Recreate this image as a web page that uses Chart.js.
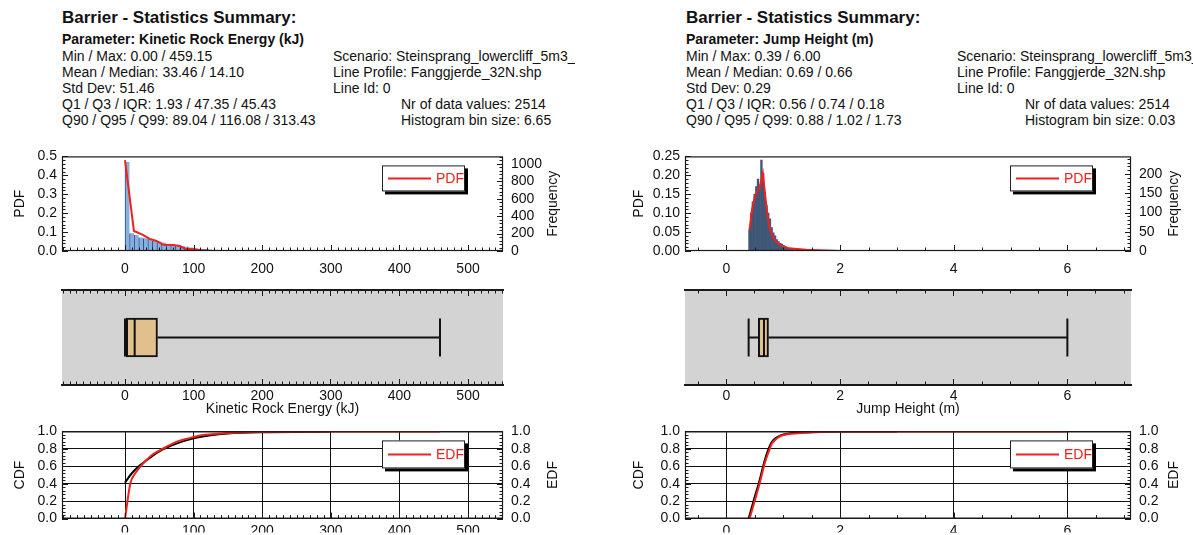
<!DOCTYPE html>
<html>
<head>
<meta charset="utf-8">
<script src="https://cdn.jsdelivr.net/npm/chart.js@4.4.0/dist/chart.umd.min.js"></script>
<style>
body { margin: 0; background: #fff; width: 1193px; height: 535px; overflow: hidden; position: relative; font-family: "Liberation Sans", Arial, sans-serif; color: #111; }
canvas { position: absolute; }
.panel { position: absolute; top: 0; height: 140px; overflow: hidden; }
.t { position: absolute; white-space: nowrap; font-size: 14px; line-height: 16px; }
.h { font-weight: bold; font-size: 17px; line-height: 20px; }
.b { font-weight: bold; }
</style>
</head>
<body>
<script>
// ---- summary text ----
const energyTitle = "Parameter: Kinetic Rock Energy (kJ)"
const energyInfo = ["Min / Max: 0.00 / 459.15", "Mean / Median: 33.46 / 14.10", "Std Dev: 51.46", "Q1 / Q3 / IQR: 1.93 / 47.35 / 45.43", "Q90 / Q95 / Q99: 89.04 / 116.08 / 313.43"]
const energyCount = ["Nr of data values: 2514", "Histogram bin size: 6.65"]
const jumpTitle = "Parameter: Jump Height (m)"
const jumpInfo = ["Min / Max: 0.39 / 6.00", "Mean / Median: 0.69 / 0.66", "Std Dev: 0.29", "Q1 / Q3 / IQR: 0.56 / 0.74 / 0.18", "Q90 / Q95 / Q99: 0.88 / 1.02 / 1.73"]
const jumpCount = ["Nr of data values: 2514", "Histogram bin size: 0.03"]
const runInfo = ["Scenario: Steinsprang_lowercliff_5m3_", "Line Profile: Fanggjerde_32N.shp", "Line Id: 0"]

// ---- kinetic rock energy ----
const energyRange = [-91.83, 550.98]
const energyTicks = [0, 100, 200, 300, 400, 500]
const energyBinStart = 0
const energyBinSize = 6.65
const energyHist = [0.471, 0.094, 0.085, 0.072, 0.068, 0.066, 0.056, 0.05, 0.045, 0.038, 0.034, 0.03, 0.027, 0.024, 0.019, 0.015, 0.012, 0.01, 0.008, 0.007, 0.006, 0.005, 0.004, 0.003, 0.003, 0.002, 0.002, 0.002, 0.001, 0.001]
const energyPdfX = [0, 13, 26, 36, 46, 56, 70, 80, 87, 99, 111, 130, 459.15]
const energyPdfY = [0.48, 0.106, 0.085, 0.064, 0.053, 0.033, 0.032, 0.027, 0.012, 0.009, 0.004, 0.0, 0.0]
const energyPdfTicks = [0, 0.1, 0.2, 0.3, 0.4, 0.5]
const energyFreqTicks = [0, 200, 400, 600, 800, 1000]
const energyBox = [0.00, 1.93, 14.10, 47.35, 459.15] // min, q1, median, q3, max
const energyCdfX = [0, 5, 10, 20, 30, 40, 50, 60, 75, 100, 125, 150, 200, 300]
const energyCdfY = [0.41, 0.47, 0.52, 0.60, 0.66, 0.72, 0.77, 0.81, 0.86, 0.92, 0.955, 0.975, 0.99, 1.0]
const energyEdfX = [0, 8, 15, 25, 38, 50, 62, 75, 87, 100, 111, 130, 160, 200, 300, 459.15]
const energyEdfY = [0, 0.41, 0.52, 0.62, 0.72, 0.78, 0.83, 0.88, 0.91, 0.935, 0.955, 0.97, 0.985, 0.993, 0.999, 1.0]

// ---- jump height ----
const jumpRange = [-0.73, 7.12]
const jumpTicks = [0, 2, 4, 6]
const jumpBinStart = 0.39
const jumpBinSize = 0.03
const jumpHist = [0.055, 0.10, 0.13, 0.15, 0.17, 0.19, 0.175, 0.24, 0.205, 0.155, 0.12, 0.10, 0.085, 0.062, 0.048, 0.04, 0.03, 0.025, 0.02, 0.018, 0.015, 0.012, 0.01, 0.008, 0.007, 0.005, 0.004, 0.003, 0.003, 0.002, 0.002, 0.002, 0.001, 0.001]
const jumpPdfX = [0.405, 0.45, 0.51, 0.58, 0.64, 0.69, 0.72, 0.76, 0.81, 0.87, 0.96, 1.1, 1.4, 2.0, 6.0]
const jumpPdfY = [0.055, 0.11, 0.15, 0.165, 0.205, 0.135, 0.097, 0.061, 0.039, 0.025, 0.014, 0.007, 0.003, 0.0, 0.0]
const jumpPdfTicks = [0, 0.05, 0.10, 0.15, 0.20, 0.25]
const jumpFreqTicks = [0, 50, 100, 150, 200]
const jumpBox = [0.39, 0.56, 0.66, 0.74, 6.00]
const jumpCdfX = [0.39, 0.48, 0.575, 0.665, 0.735, 0.79, 0.86, 0.95, 1.1, 1.4, 2.0, 3.0]
const jumpCdfY = [0, 0.21, 0.42, 0.65, 0.79, 0.87, 0.92, 0.955, 0.975, 0.99, 1.0, 1.0]
const jumpEdfX = [0.407, 0.5, 0.59, 0.68, 0.75, 0.8, 0.87, 0.96, 1.1, 1.4, 2.0, 6.0]
const jumpEdfY = [0, 0.21, 0.42, 0.65, 0.78, 0.86, 0.91, 0.95, 0.97, 0.985, 1.0, 1.0]

const cdfTicks = [0, 0.2, 0.4, 0.6, 0.8, 1.0]

Chart.defaults.font.family = "'Liberation Sans', Arial, sans-serif"
Chart.defaults.font.size = 14
Chart.defaults.color = '#111'
Chart.defaults.animation = false

function drawTicks(chart, o) {
    const a = chart.chartArea, ctx = chart.ctx
    ctx.strokeStyle = '#1a1a1a'
    ctx.lineWidth = 1
    for (const t of o.ticks || []) {
        const sc = chart.scales[t.scale]
        const n0 = Math.ceil(sc.min / t.minor - 1e-6), n1 = Math.floor(sc.max / t.minor + 1e-6)
        for (let n = n0; n <= n1; n++) {
            const v = n * t.minor
            const r = v / t.major
            const len = Math.abs(r - Math.round(r)) < 1e-6 ? 6 : 3.5
            const p = Math.round(sc.getPixelForValue(v)) + 0.5
            ctx.beginPath()
            if (t.edge == 'bottom') { ctx.moveTo(p, a.bottom); ctx.lineTo(p, a.bottom - len) }
            if (t.edge == 'left') { ctx.moveTo(a.left, p); ctx.lineTo(a.left + len, p) }
            if (t.edge == 'right') { ctx.moveTo(a.right, p); ctx.lineTo(a.right - len, p) }
            ctx.stroke()
        }
    }
}

function drawFrame(chart, o) {
    if (o.frame != 'box') return
    const a = chart.chartArea, ctx = chart.ctx
    ctx.strokeStyle = '#1a1a1a'
    ctx.lineWidth = 1.2
    ctx.strokeRect(a.left + 0.5, a.top + 0.5, a.right - a.left - 1, a.bottom - a.top - 1)
}

function drawLegend(chart, o) {
    if (!o.legend) return
    const a = chart.chartArea, ctx = chart.ctx, L = o.legend
    const x = a.right - L.right - L.w, y = a.top + L.top
    ctx.fillStyle = '#000'
    ctx.fillRect(x + 3, y + 3, L.w, L.h)
    ctx.fillStyle = '#fff'
    ctx.fillRect(x, y, L.w, L.h)
    ctx.lineWidth = 1
    ctx.strokeStyle = '#222'
    ctx.strokeRect(x + 0.5, y + 0.5, L.w - 1, L.h - 1)
    ctx.strokeStyle = '#f0211c'
    ctx.lineWidth = 2
    ctx.beginPath()
    ctx.moveTo(x + 6, y + L.h / 2); ctx.lineTo(x + 49, y + L.h / 2)
    ctx.stroke()
    ctx.fillStyle = '#f0211c'
    ctx.font = "14px 'Liberation Sans', Arial, sans-serif"
    ctx.textBaseline = 'middle'
    ctx.fillText(L.text, x + 54, y + L.h / 2 + 1)
}

function drawRightTitle(chart, o) {
    if (!o.rightTitle) return
    const a = chart.chartArea, ctx = chart.ctx
    ctx.fillStyle = '#111'
    ctx.font = "14px 'Liberation Sans', Arial, sans-serif"
    ctx.textAlign = 'center'
    ctx.textBaseline = 'middle'
    ctx.translate(o.rightTitle.x, (a.top + a.bottom) / 2)
    ctx.rotate(-Math.PI / 2)
    ctx.fillText(o.rightTitle.text, 0, 0)
}

function run(chart, list, o) {
    for (const fn of list) {
        chart.ctx.save()
        try { fn(chart, o) } catch (e) { console.error(e) }
        chart.ctx.restore()
    }
}

// settings live on the canvas element, not in the chart options.
// the grey band goes in beforeDraw so the axis ticks land on top of it
const deco = {
    id: 'deco',
    beforeDraw(chart) {
        const o = chart.canvas.deco || {}
        if (!o.bg) return
        const a = chart.chartArea, ctx = chart.ctx
        ctx.save()
        ctx.fillStyle = o.bg
        ctx.fillRect(a.left, a.top, a.right - a.left, a.bottom - a.top)
        ctx.restore()
    },
    afterDatasetsDraw(chart) {
        const o = chart.canvas.deco || {}
        run(chart, [drawFrame, drawTicks, drawLegend, drawRightTitle], o)
    }
}

function addCanvas(x, y, w, h) {
    const c = document.createElement('canvas')
    c.width = w
    c.height = h
    c.style.left = x + 'px'
    c.style.top = y + 'px'
    document.body.appendChild(c)
    return c
}

function setTicks(list) {
    return s => { s.ticks = list.map(v => ({value: v})) }
}

function xAxis(p, height, padding, title) {
    return {
        type: 'linear', min: p.range[0], max: p.range[1], offset: false,
        grid: {display: false, drawTicks: false, offset: false}, border: {display: false},
        ticks: {padding: padding, maxRotation: 0, autoSkip: false},
        afterBuildTicks: setTicks(p.xTicks),
        afterFit: s => { s.height = height },
        title: title ? {display: true, text: title, padding: {top: 0, bottom: 2}} : {display: false}
    }
}

// zero height axis that only draws inward tick marks (negative tickLength)
function tickAxis(p, pos, list, len, weight, border) {
    return {
        type: 'linear', position: pos, min: p.range[0], max: p.range[1], offset: false, weight: weight,
        grid: {display: true, drawOnChartArea: false, drawTicks: true, tickLength: -len, color: '#1a1a1a', lineWidth: 1, offset: false},
        border: border ? {display: true, width: 2, color: '#1a1a1a'} : {display: false},
        ticks: {display: false},
        afterBuildTicks: setTicks(list),
        afterFit: s => { s.height = 0 }
    }
}

function yAxis(pos, max, list, width, padding, dec, title, grid) {
    return {
        position: pos, min: 0, max: max,
        grid: grid ? {display: true, drawTicks: false, color: '#111'} : {display: false, drawTicks: false},
        border: {display: false},
        ticks: {padding: padding, autoSkip: false, callback: v => dec == null ? v : v.toFixed(dec)},
        afterBuildTicks: setTicks(list),
        afterFit: s => { s.width = width },
        title: title ? {display: true, text: title} : {display: false}
    }
}

function addSummary(p) {
    const panel = document.createElement('div')
    panel.className = 'panel'
    panel.style.left = p.x0 + 'px'
    panel.style.width = p.textW + 'px'
    const put = (txt, x, y, cls) => {
        const d = document.createElement('div')
        d.className = 't ' + (cls || '')
        d.style.left = x + 'px'
        d.style.top = y + 'px'
        d.textContent = txt
        panel.appendChild(d)
    }
    put('Barrier - Statistics Summary:', p.textX, 8, 'h')
    put(p.title, p.textX, 31, 'b')
    p.info.forEach((s, i) => put(s, p.textX, 48 + i * 16))
    runInfo.forEach((s, i) => put(s, p.textX + 271, 48 + i * 16))
    p.count.forEach((s, i) => put(s, p.textX + 339, 96 + i * 16))
    document.body.appendChild(panel)
}

function makeHist(p) {
    const el = addCanvas(p.x0, 140, p.w, 140)
    el.deco = {
        frame: 'box',
        ticks: [
            {scale: 'x', edge: 'bottom', major: p.xMajor, minor: p.xMinor},
            {scale: 'y', edge: 'left', major: p.pdfMajor, minor: p.pdfMajor / 5},
            {scale: 'f', edge: 'right', major: p.freqMajor, minor: p.freqMinor}
        ],
        legend: {text: 'PDF', right: 38, top: 9, w: 83, h: 26},
        rightTitle: {text: 'Frequency', x: p.rightTitleX}
    }
    const bars = p.hist.map((v, i) => ({x: p.binStart + (i + 0.5) * p.binSize, y: v}))
    const pdf = p.pdfX.map((x, i) => ({x: x, y: p.pdfY[i]}))
    new Chart(el, {
        type: 'bar',
        data: {
            datasets: [
                {type: 'line', data: pdf, borderColor: '#f0211c', borderWidth: 2, pointRadius: 0, yAxisID: 'y'},
                {type: 'bar', data: bars, backgroundColor: p.barFill, borderColor: p.barEdge, borderWidth: p.barBorder, borderSkipped: false, barPercentage: 1, categoryPercentage: 1, yAxisID: 'y'}
            ]
        },
        options: {
            responsive: false, devicePixelRatio: 1,
            layout: {padding: {left: p.padL, top: 16, right: 0, bottom: 0}},
            scales: {
                x: xAxis(p, 29, 10),
                y: yAxis('left', p.pdfMax, p.pdfTicks, p.yW, 5, p.dec, 'PDF'),
                f: yAxis('right', p.freqMax, p.freqTicks, p.w - p.right, 8, null)
            },
            plugins: {legend: {display: false}, tooltip: {enabled: false}}
        },
        plugins: [deco]
    })
}

function makeBox(p) {
    const el = addCanvas(p.x0, 280, p.w, 140)
    el.deco = {bg: '#d3d3d3'}
    const [mn, q1, md, q3, mx] = p.box
    const minors = []
    for (let n = Math.ceil(p.range[0] / p.xMinor); n * p.xMinor <= p.range[1]; n++) minors.push(n * p.xMinor)
    const seg = pts => ({type: 'line', data: pts, borderColor: '#111', borderWidth: 2, pointRadius: 0, indexAxis: 'x', xAxisID: 'x', yAxisID: 'y'})
    const xa = xAxis(p, 35, 3, p.axisTitle)
    xa.grid = {display: true, drawOnChartArea: false, drawTicks: false, offset: false}
    xa.border = {display: true, width: 2, color: '#1a1a1a'}
    xa.weight = 0
    new Chart(el, {
        type: 'bar',
        data: {
            datasets: [
                seg([{x: md, y: 0.3}, {x: md, y: 0.7}]),
                {type: 'bar', indexAxis: 'y', xAxisID: 'x', yAxisID: 'y', data: [{x: [q1, q3], y: 0.5}], backgroundColor: '#e2c08e', borderColor: '#111', borderWidth: 2, borderSkipped: false, barThickness: 39, grouped: false},
                seg([{x: mn, y: 0.5}, {x: q1, y: 0.5}]),
                seg([{x: q3, y: 0.5}, {x: mx, y: 0.5}]),
                seg([{x: mn, y: 0.3}, {x: mn, y: 0.7}]),
                seg([{x: mx, y: 0.3}, {x: mx, y: 0.7}])
            ]
        },
        options: {
            responsive: false, devicePixelRatio: 1,
            layout: {padding: {left: p.left, top: 10, right: p.w - p.right, bottom: 0}},
            scales: {
                x: xa,
                xbMajor: tickAxis(p, 'bottom', p.xTicks, 6, -2, false),
                xbMinor: tickAxis(p, 'bottom', minors, 3.5, -1, false),
                xtMajor: tickAxis(p, 'top', p.xTicks, 6, 0, true),
                xtMinor: tickAxis(p, 'top', minors, 3.5, 0, false),
                y: {type: 'linear', min: 0, max: 1, display: false, offset: false}
            },
            plugins: {legend: {display: false}, tooltip: {enabled: false}}
        },
        plugins: [deco]
    })
}

function makeCdf(p) {
    const el = addCanvas(p.x0, 415, p.w, 120)
    el.deco = {
        frame: 'box',
        ticks: [
            {scale: 'x', edge: 'bottom', major: p.xMajor, minor: p.xMinor},
            {scale: 'y', edge: 'left', major: 0.2, minor: 0.04},
            {scale: 'e', edge: 'right', major: 0.2, minor: 0.04}
        ],
        legend: {text: 'EDF', right: 38, top: 9, w: 83, h: 28},
        rightTitle: {text: 'EDF', x: p.rightTitleX}
    }
    const edf = p.edfX.map((x, i) => ({x: x, y: p.edfY[i]}))
    const cdf = p.cdfX.map((x, i) => ({x: x, y: p.cdfY[i]}))
    const xa = xAxis(p, 14, 4)
    xa.grid = {display: true, drawTicks: false, color: '#111', lineWidth: 1}
    new Chart(el, {
        type: 'line',
        data: {
            datasets: [
                {data: edf, borderColor: '#f0211c', borderWidth: 2, pointRadius: 0, cubicInterpolationMode: 'monotone'},
                {data: cdf, borderColor: '#000', borderWidth: 2, pointRadius: 0, cubicInterpolationMode: 'monotone'}
            ]
        },
        options: {
            responsive: false, devicePixelRatio: 1,
            layout: {padding: {left: p.padL, top: 13, right: 0, bottom: 0}},
            scales: {
                x: xa,
                y: yAxis('left', 1, cdfTicks, p.yW, 5, 1, 'CDF', true),
                e: yAxis('right', 1, cdfTicks, p.w - p.right, 8, 1)
            },
            plugins: {legend: {display: false}, tooltip: {enabled: false}}
        },
        plugins: [deco]
    })
}

const energyPanel = {
    x0: 0, w: 600, textX: 62, textW: 575, left: 62, right: 503, padL: 8, yW: 54, rightTitleX: 553,
    title: energyTitle, info: energyInfo, count: energyCount,
    range: energyRange, xTicks: energyTicks, xMajor: 100, xMinor: 10,
    hist: energyHist, binStart: energyBinStart, binSize: energyBinSize,
    barFill: '#86b0e2', barEdge: '#2c4a78', barBorder: {left: 1, right: 0, top: 0, bottom: 0},
    pdfX: energyPdfX, pdfY: energyPdfY, pdfMax: 0.5, pdfTicks: energyPdfTicks, pdfMajor: 0.1, dec: 1,
    freqMax: 1085, freqTicks: energyFreqTicks, freqMajor: 200, freqMinor: 40,
    box: energyBox, axisTitle: 'Kinetic Rock Energy (kJ)',
    cdfX: energyCdfX, cdfY: energyCdfY, edfX: energyEdfX, edfY: energyEdfY
}

const jumpPanel = {
    x0: 600, w: 593, textX: 86, textW: 593, left: 85, right: 531, padL: 27, yW: 58, rightTitleX: 574,
    title: jumpTitle, info: jumpInfo, count: jumpCount,
    range: jumpRange, xTicks: jumpTicks, xMajor: 2, xMinor: 0.5,
    hist: jumpHist, binStart: jumpBinStart, binSize: jumpBinSize,
    barFill: '#3f5878', barEdge: '#3f5878', barBorder: 0,
    pdfX: jumpPdfX, pdfY: jumpPdfY, pdfMax: 0.25, pdfTicks: jumpPdfTicks, pdfMajor: 0.05, dec: 2,
    freqMax: 246, freqTicks: jumpFreqTicks, freqMajor: 50, freqMinor: 10,
    box: jumpBox, axisTitle: 'Jump Height (m)',
    cdfX: jumpCdfX, cdfY: jumpCdfY, edfX: jumpEdfX, edfY: jumpEdfY
}

for (const p of [energyPanel, jumpPanel]) {
    addSummary(p)
    makeHist(p)
    makeBox(p)
    makeCdf(p)
}
</script>
</body>
</html>
